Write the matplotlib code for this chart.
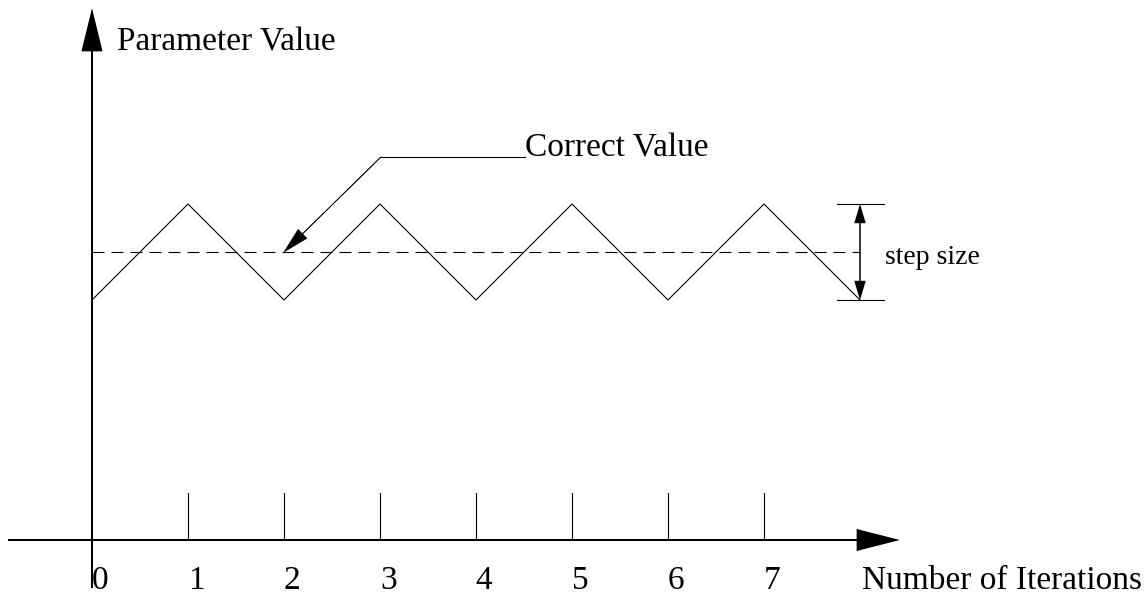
import matplotlib
matplotlib.use("Agg")
import matplotlib.pyplot as plt

# Data
ITERS       = [0, 1, 2, 3, 4, 5, 6, 7, 8]
PARAM       = [-0.5, 0.5, -0.5, 0.5, -0.5, 0.5, -0.5, 0.5, -0.5]
CORRECT     = 0.0
STEP        = 1.0
TICKS       = [0, 1, 2, 3, 4, 5, 6, 7]
TICK_LABELS = ['0', '1', '2', '3', '4', '5', '6', '7']

AXIS_Y = -3.0      # where the iteration axis sits
FONT   = 'Liberation Serif'

fig = plt.figure(figsize=(11.48, 5.97), dpi=100)
ax = fig.add_axes([0, 0, 1, 1])
ax.set_xlim(-92 / 96, (1148 - 92) / 96)
ax.set_ylim(-(597 - 252) / 96, 252 / 96)
ax.axis('off')

# ── Axes with arrow heads ──────────────────────────────────────────────────
ax.arrow(-0.875, AXIS_Y, 9.29, 0, width=0.021, head_width=0.23, head_length=0.45,
         length_includes_head=True, color='k', lw=0)
ax.arrow(0, -3.5, 0, 6.04, width=0.021, head_width=0.22, head_length=0.45,
         length_includes_head=True, color='k', lw=0)

# tick marks + labels
for t, lab in zip(TICKS, TICK_LABELS):
    if t > 0:
        ax.plot([t, t], [AXIS_Y, AXIS_Y + 0.49], color='k', lw=0.8)
    ax.text(t + 0.085, -3.51, lab, fontsize=24, family=FONT, ha='center', va='baseline')

ax.text(0.26, 2.104, 'Parameter Value', fontsize=24, family=FONT, va='baseline')
ax.text(8.02, -3.51, 'Number of Iterations', fontsize=24, family=FONT, va='baseline')

# ── Zigzag and correct value ───────────────────────────────────────────────
ax.plot(ITERS, PARAM, color='k', lw=0.8)
ax.plot([ITERS[0], ITERS[-1]], [CORRECT, CORRECT], color='k', lw=0.8,
        dashes=(10.8, 6.3))

# Correct Value leader
tip_x = ITERS[2]
ax.plot([3.01, 4.51], [CORRECT + 0.99, CORRECT + 0.99], color='k', lw=0.8)
ax.arrow(3.01, CORRECT + 0.99, tip_x - 3.01, -0.99, width=0.004, head_width=0.13,
         head_length=0.27, length_includes_head=True, color='k', lw=0.4)
ax.text(4.51, CORRECT + 0.99, 'Correct Value', fontsize=24, family=FONT, va='baseline')

# step size marker
sx = ITERS[-1]
top, bot = CORRECT + STEP / 2, CORRECT - STEP / 2
for yy in (top, bot):
    ax.plot([sx - 0.24, sx + 0.25], [yy, yy], color='k', lw=0.8)
    ax.arrow(sx, CORRECT, 0, yy - CORRECT, width=0.016, head_width=0.12,
             head_length=0.2, length_includes_head=True, color='k', lw=0)
ax.text(8.26, -0.06, 'step size', fontsize=20, family=FONT, va='center')

fig.savefig('out.png', dpi=100)
